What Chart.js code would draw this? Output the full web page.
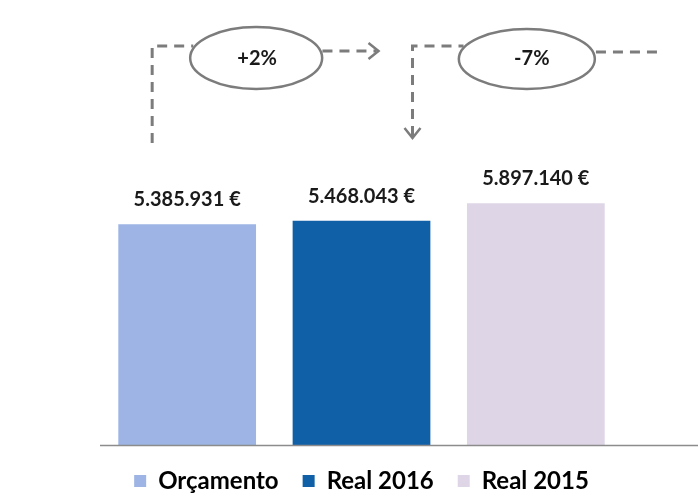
<!DOCTYPE html>
<html lang="pt">
<head>
<meta charset="utf-8">
<title>Orçamento vs Real</title>
<script src="https://cdn.jsdelivr.net/npm/chart.js@4/dist/chart.umd.min.js"></script>
<style>
    body { margin: 0; background: #fff; }
    #caixa { width: 698px; height: 499px; position: relative; }
</style>
</head>
<body>
<div id="caixa"><canvas id="grafico"></canvas></div>
<script>
const categorias = ['Orçamento', 'Real 2016', 'Real 2015'];
const valores = [5385931, 5468043, 5897140];
const cores = ['#9db4e4', '#1060a8', '#ded6e6'];

const formatarEuro = (v) => String(v).replace(/\B(?=(\d{3})+(?!\d))/g, '.') + ' €';
const formatarPct = (v) => (v > 0 ? '+' : '') + v + '%';

// variações mostradas nas elipses
const var1 = Math.round((valores[1] - valores[0]) / valores[0] * 100);
const var2 = Math.round((valores[1] - valores[2]) / valores[2] * 100);

const anotacoes = {
    id: 'anotacoes',
    afterDatasetsDraw(chart) {
        const ctx = chart.ctx;
        const barras = chart.getDatasetMeta(0).data;
        const area = chart.chartArea;
        ctx.save();

        // linha base
        ctx.strokeStyle = '#8c8c8c';
        ctx.lineWidth = 1.5;
        ctx.beginPath();
        ctx.moveTo(area.left, area.bottom + 0.5);
        ctx.lineTo(chart.width, area.bottom + 0.5);
        ctx.stroke();

        // valores em cima das barras
        ctx.font = 'bold 20px Lato';
        ctx.fillStyle = '#1a1a1a';
        ctx.textAlign = 'center';
        ctx.textBaseline = 'alphabetic';
        barras.forEach((b, i) => {
            ctx.fillText(formatarEuro(valores[i]), b.x, b.y - 18);
        });

        const c1 = barras[0].x, c2 = barras[1].x, c3 = barras[2].x;
        const topo = area.top;
        const e1 = { x: c1 + 69, y: topo + 23, rx: 66, ry: 31 };
        const e2 = { x: c3 - 9, y: topo + 24, rx: 68, ry: 30 };
        const bordaX = (e, y, lado) => e.x + lado * e.rx * Math.sqrt(1 - Math.pow((y - e.y) / e.ry, 2));

        // elipses
        ctx.strokeStyle = '#7c7c7c';
        ctx.lineWidth = 2.5;
        [e1, e2].forEach(e => {
            ctx.beginPath();
            ctx.ellipse(e.x, e.y, e.rx, e.ry, 0, 0, Math.PI * 2);
            ctx.stroke();
        });

        ctx.font = 'bold 20px Lato';
        ctx.textBaseline = 'middle';
        ctx.fillText(formatarPct(var1), e1.x + 1, e1.y + 1);
        ctx.fillText(formatarPct(var2), e2.x + 5, e2.y);

        // setas tracejadas
        ctx.lineWidth = 3;
        ctx.setLineDash([10, 7]);
        const yA = topo + 11;
        const xA = c1 - 35;
        ctx.beginPath();
        ctx.moveTo(xA, topo + 108);
        ctx.lineTo(xA, yA);
        ctx.lineTo(bordaX(e1, yA, -1) - 2, yA);
        ctx.stroke();

        const yB = topo + 16;
        const pontaB = c2 + 17;
        ctx.beginPath();
        ctx.moveTo(bordaX(e1, yB, 1) + 2, yB);
        ctx.lineTo(pontaB - 2, yB);
        ctx.stroke();

        const xC = c2 + 51;
        const pontaC = topo + 103;
        ctx.beginPath();
        ctx.moveTo(xC, pontaC - 2);
        ctx.lineTo(xC, yA);
        ctx.lineTo(bordaX(e2, yA, -1) - 2, yA);
        ctx.stroke();

        const yD = topo + 17;
        ctx.beginPath();
        ctx.moveTo(bordaX(e2, yD, 1) + 3, yD);
        ctx.lineTo(660, yD);
        ctx.stroke();

        // pontas das setas
        ctx.setLineDash([]);
        ctx.lineWidth = 2.5;
        ctx.beginPath();
        ctx.moveTo(pontaB - 10, yB - 8);
        ctx.lineTo(pontaB, yB);
        ctx.lineTo(pontaB - 10, yB + 8);
        ctx.moveTo(xC - 8, pontaC - 10);
        ctx.lineTo(xC, pontaC);
        ctx.lineTo(xC + 8, pontaC - 10);
        ctx.stroke();

        ctx.restore();
    }
};

const ctx = document.getElementById('grafico').getContext('2d');
new Chart(ctx, {
    type: 'bar',
    data: {
        labels: categorias,
        datasets: [{
            data: valores,
            backgroundColor: cores,
            barPercentage: 0.79,
            categoryPercentage: 1
        }]
    },
    options: {
        responsive: true,
        maintainAspectRatio: false,
        animation: false,
        layout: {
            padding: { top: 35, left: 100, right: 75, bottom: -4 }
        },
        scales: {
            x: { display: false },
            y: { display: false, min: 0, max: 10000000 }
        },
        plugins: {
            tooltip: { enabled: false },
            legend: {
                position: 'bottom',
                labels: {
                    font: { family: 'Lato', size: 24, weight: 'bold' },
                    color: '#1a1a1a',
                    boxWidth: 12,
                    boxHeight: 12,
                    padding: 24,
                    generateLabels: () => categorias.map((c, i) => ({
                        text: c,
                        fillStyle: cores[i],
                        strokeStyle: cores[i],
                        lineWidth: 0,
                        hidden: false,
                        index: i
                    }))
                }
            }
        }
    },
    plugins: [anotacoes]
});
</script>
</body>
</html>
